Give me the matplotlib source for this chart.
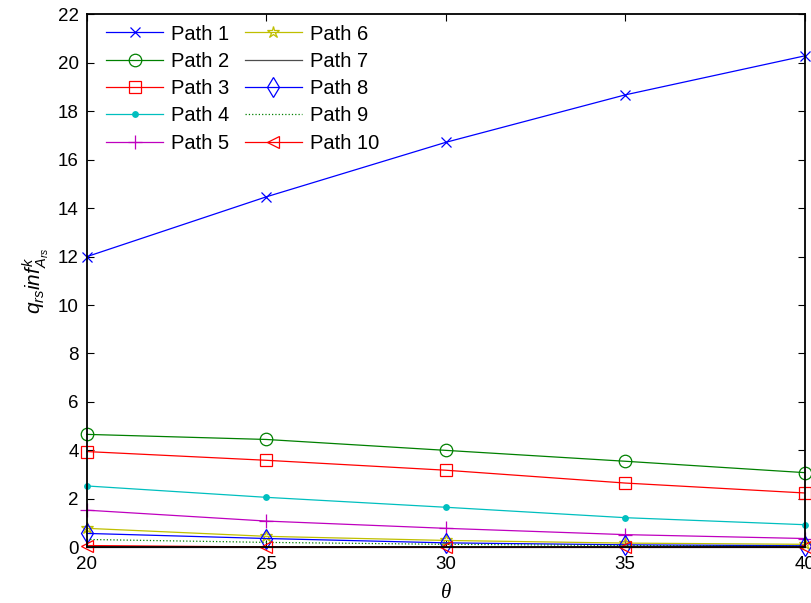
import matplotlib
matplotlib.use("Agg")
import matplotlib.pyplot as plt

plt.rcParams['font.family'] = ['Liberation Sans', 'DejaVu Sans']
plt.rcParams['mathtext.fontset'] = 'custom'
plt.rcParams['mathtext.it'] = 'Liberation Sans:italic'
plt.rcParams['mathtext.rm'] = 'Liberation Sans'

theta = [20, 25, 30, 35, 40]
path1 = [12.0, 14.47, 16.72, 18.68, 20.29]
path2 = [4.66, 4.45, 4.0, 3.55, 3.08]
path3 = [3.95, 3.59, 3.18, 2.65, 2.24]
path4 = [2.53, 2.06, 1.65, 1.22, 0.93]
path5 = [1.53, 1.08, 0.78, 0.52, 0.36]
path6 = [0.78, 0.45, 0.28, 0.17, 0.12]
path7 = [0.0, 0.0, 0.0, 0.0, 0.0]
path8 = [0.57, 0.36, 0.18, 0.1, 0.06]
path9 = [0.32, 0.2, 0.12, 0.07, 0.04]
path10 = [0.07, 0.01, 0.0, 0.0, 0.0]
labels = ['Path 1', 'Path 2', 'Path 3', 'Path 4', 'Path 5',
          'Path 6', 'Path 7', 'Path 8', 'Path 9', 'Path 10']
yticks = list(range(0, 23, 2))
xticks = [20, 25, 30, 35, 40]

series = [path1, path2, path3, path4, path5, path6, path7, path8, path9, path10]
styles = [
    dict(color=(0, 0, 1), marker='x', ls='-', ms=7, mfc='none'),
    dict(color=(0, 0.5, 0), marker='o', ls='-', ms=9, mfc='none'),
    dict(color=(1, 0, 0), marker='s', ls='-', ms=9, mfc='none'),
    dict(color=(0, 0.75, 0.75), marker='.', ls='-', ms=8),
    dict(color=(0.75, 0, 0.75), marker='+', ls='-', ms=10),
    dict(color=(0.75, 0.75, 0), marker='*', ls='-', ms=9, mfc='none'),
    dict(color=(0.3, 0.3, 0.3), marker='', ls='-'),
    dict(color=(0, 0, 1), marker='d', ls='-', ms=10, mfc='none'),
    dict(color=(0, 0.5, 0), marker='', ls=':'),
    dict(color=(1, 0, 0), marker='<', ls='-', ms=9, mfc='none'),
]

fig = plt.figure(figsize=(8.12, 6.03), dpi=100)
ax = fig.add_axes([0.107, 0.0925, 0.884, 0.8835])

for ys, lab, st in zip(series, labels, styles):
    ax.plot(theta, ys, label=lab, lw=0.9, mew=0.9, clip_on=False, **st)

ax.set_xlim(20, 40)
ax.set_ylim(0, 22)
ax.set_xticks(xticks)
ax.set_yticks(yticks)
ax.tick_params(direction='in', top=True, right=True, length=5, width=0.8,
               labelsize=13.5, pad=6)
for s in ax.spines.values():
    s.set_linewidth(1.3)

ax.set_xlabel('θ', fontsize=15, family='Liberation Serif', style='italic',
              labelpad=8)
ax.set_ylabel(r'$q_{rs}inf^{k}_{A_{rs}}$', fontsize=15, labelpad=4)

ax.legend(loc='upper left', ncol=2, frameon=False, fontsize=14.5,
          handlelength=2.84, handletextpad=0.4, columnspacing=0.75,
          labelspacing=0.41, borderaxespad=0.55,
          bbox_to_anchor=(0.0, 1.017))

fig.savefig('out.png', dpi=100)
